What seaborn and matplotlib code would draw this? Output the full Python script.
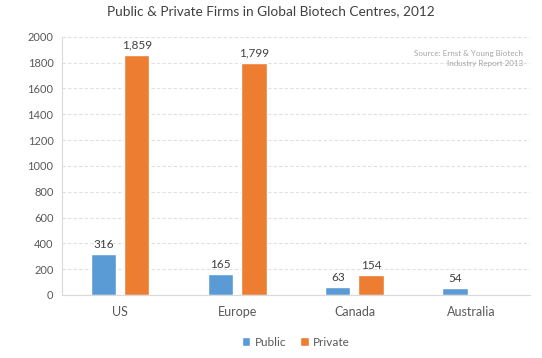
import numpy as np
import pandas as pd
import seaborn as sns
import matplotlib.pyplot as plt

# data
centres = ['US', 'Europe', 'Canada', 'Australia']
public_firms = [316, 165, 63, 54]
private_firms = [1859, 1799, 154, np.nan]   # no private bar for Australia
y_ticks = list(range(0, 2001, 200))

df = pd.DataFrame({
    'centre': centres * 2,
    'type': ['Public'] * 4 + ['Private'] * 4,
    'firms': public_firms + private_firms,
})

sns.set_style('white')
plt.rcParams['font.family'] = ['Lato', 'DejaVu Sans']

fig = plt.figure(figsize=(5.42, 3.58), dpi=100)
ax = fig.add_axes([0.114, 0.176, 0.864, 0.721])

palette = {'Public': '#5B9BD5', 'Private': '#ED7D31'}
sns.barplot(data=df, x='centre', y='firms', hue='type', order=centres,
            hue_order=['Public', 'Private'], palette=palette,
            width=0.565, gap=0.24, saturation=1, ax=ax, legend=True)

for cont in ax.containers:
    labels = ['' if np.isnan(v) else f'{v:,.0f}' for v in cont.datavalues]
    ax.bar_label(cont, labels=labels, padding=3, fontsize=8.5, color='#404040')

ax.set_ylim(0, 2000)
ax.set_yticks(y_ticks)
ax.tick_params(axis='y', labelsize=8, colors='#595959', length=0, pad=6)
ax.tick_params(axis='x', labelsize=9, colors='#595959', length=0, pad=8)
ax.yaxis.grid(True, linestyle=(0, (3, 2)), color='#e0e0e0', linewidth=0.8)
ax.set_axisbelow(True)
ax.set_xlabel('')
ax.set_ylabel('')
for side in ['top', 'right']:
    ax.spines[side].set_visible(False)
ax.spines['left'].set_color('#d9d9d9')
ax.spines['bottom'].set_color('#d9d9d9')

ax.text(0.985, 0.95, 'Source: Ernst & Young Biotech\nIndustry Report 2013',
        transform=ax.transAxes, ha='right', va='top', fontsize=5.8,
        color='#a6a6a6', linespacing=1.6)

fig.suptitle('Public & Private Firms in Global Biotech Centres, 2012',
             y=0.985, fontsize=9.8, color='#404040')

leg = ax.legend(loc='upper center', bbox_to_anchor=(0.5, -0.12), ncol=2,
                frameon=False, fontsize=8.5, handlelength=0.7, handleheight=0.7,
                columnspacing=1.2, handletextpad=0.4)
for t in leg.get_texts():
    t.set_color('#595959')

fig.savefig('out.png', dpi=100)
